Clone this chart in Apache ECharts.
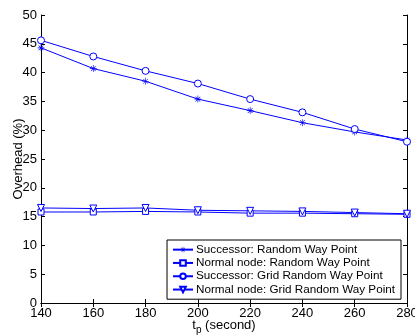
<!DOCTYPE html>
<html>
<head>
<meta charset="utf-8">
<script src="https://cdn.jsdelivr.net/npm/echarts@6/dist/echarts.min.js"></script>
<style>
  html, body { margin: 0; padding: 0; background: #fff; }
  #chart { width: 415px; height: 335px; }
</style>
</head>
<body>
<div id="chart"></div>
<script>
// t_p values (second)
const tp = [140, 160, 180, 200, 220, 240, 260, 280];

// overhead (%)
const successorRWP = [44.3, 40.7, 38.5, 35.4, 33.4, 31.3, 29.7, 28.3];
const normalRWP = [15.8, 15.8, 15.9, 15.8, 15.6, 15.6, 15.5, 15.4];
const successorGRWP = [45.6, 42.8, 40.3, 38.1, 35.4, 33.1, 30.2, 28.0];
const normalGRWP = [16.5, 16.4, 16.5, 16.1, 16.0, 15.9, 15.7, 15.5];

const seriesNames = [
  "Successor: Random Way Point",
  "Normal node: Random Way Point",
  "Successor: Grid Random Way Point",
  "Normal node: Grid Random Way Point",
];

const yTicks = { min: 0, max: 50, step: 5 };
const xTicks = { min: 140, max: 280, step: 20 };

const BLUE = "#0000ff";
const FONT = "'Liberation Sans', Arial, sans-serif";

// asterisk marker (plus + cross), filled path
const asterisk =
  "path://M0 4.55H10V5.45H0Z M4.55 0H5.45V10H4.55Z " +
  "M1.3 1.9L1.9 1.3L8.7 8.1L8.1 8.7Z M8.1 1.3L8.7 1.9L1.9 8.7L1.3 8.1Z";

const pairs = (ys) => tp.map((x, i) => [x, ys[i]]);

const chart = echarts.init(document.getElementById("chart"), null, { renderer: "canvas" });

// hollow markers: white fill, thin blue border
const mkSeries = (name, data, symbol, size, extra) => Object.assign({
  name,
  type: "line",
  data: pairs(data),
  symbol,
  symbolSize: size,
  showAllSymbol: true,
  lineStyle: { color: BLUE, width: 1 },
  itemStyle: { color: "#fff", borderColor: BLUE, borderWidth: 1 },
  emphasis: { disabled: true },
  animation: false,
  z: 3,
}, extra || {});

const tickStyle = { show: true, inside: true, length: 4, lineStyle: { color: "#000", width: 1 } };

const option = {
  animation: false,
  textStyle: { fontFamily: FONT },
  grid: { left: 41, right: 8, top: 15, bottom: 32, show: false, outerBoundsMode: "none", containLabel: false },
  legend: {
    orient: "vertical",
    right: 14,
    top: 240,
    itemGap: 0,
    itemWidth: 20,
    itemHeight: 7,
    padding: [3, 6, 3, 5],
    borderColor: "#000",
    borderWidth: 1,
    backgroundColor: "#fff",
    textStyle: { fontSize: 11.7, color: "#000", fontFamily: FONT, padding: [0, 0, 0, -2], lineHeight: 13.3 },
    data: seriesNames,
  },
  xAxis: [
    {
      type: "value",
      min: xTicks.min,
      max: xTicks.max,
      interval: xTicks.step,
      name: "t{sub|p} (second)",
      nameLocation: "middle",
      nameGap: 12,
      nameMoveOverlap: false,
      nameTextStyle: {
        fontSize: 13,
        color: "#000",
        fontFamily: FONT,
        rich: { sub: { fontSize: 10, verticalAlign: "bottom", padding: [10, 0, 0, 0], fontFamily: FONT } },
      },
      axisLine: { show: true, lineStyle: { color: "#000", width: 1 } },
      axisTick: tickStyle,
      axisLabel: { fontSize: 13, color: "#000", margin: 4, fontFamily: FONT },
      splitLine: { show: false },
    },
    {
      type: "value",
      position: "top",
      min: xTicks.min,
      max: xTicks.max,
      interval: xTicks.step,
      axisLine: { show: true, lineStyle: { color: "#000", width: 1 } },
      axisTick: tickStyle,
      axisLabel: { show: false },
      splitLine: { show: false },
    },
  ],
  yAxis: [
    {
      type: "value",
      min: yTicks.min,
      max: yTicks.max,
      interval: yTicks.step,
      name: "Overhead (%)",
      nameLocation: "middle",
      nameGap: 16,
      nameMoveOverlap: false,
      nameTextStyle: { fontSize: 13, color: "#000", fontFamily: FONT },
      axisLine: { show: true, lineStyle: { color: "#000", width: 1 } },
      axisTick: tickStyle,
      axisLabel: { fontSize: 13, color: "#000", margin: 4, fontFamily: FONT },
      splitLine: { show: false },
    },
    {
      type: "value",
      position: "right",
      min: yTicks.min,
      max: yTicks.max,
      interval: yTicks.step,
      axisLine: { show: true, lineStyle: { color: "#000", width: 1 } },
      axisTick: tickStyle,
      axisLabel: { show: false },
      splitLine: { show: false },
    },
  ],
  series: [
    mkSeries(seriesNames[0], successorRWP, asterisk, 7, { itemStyle: { color: BLUE, borderWidth: 0 } }),
    mkSeries(seriesNames[1], normalRWP, "rect", 6),
    mkSeries(seriesNames[2], successorGRWP, "circle", 7),
    mkSeries(seriesNames[3], normalGRWP, "triangle", 7, { symbolRotate: 180 }),
  ],
};

chart.setOption(option);
</script>
</body>
</html>
